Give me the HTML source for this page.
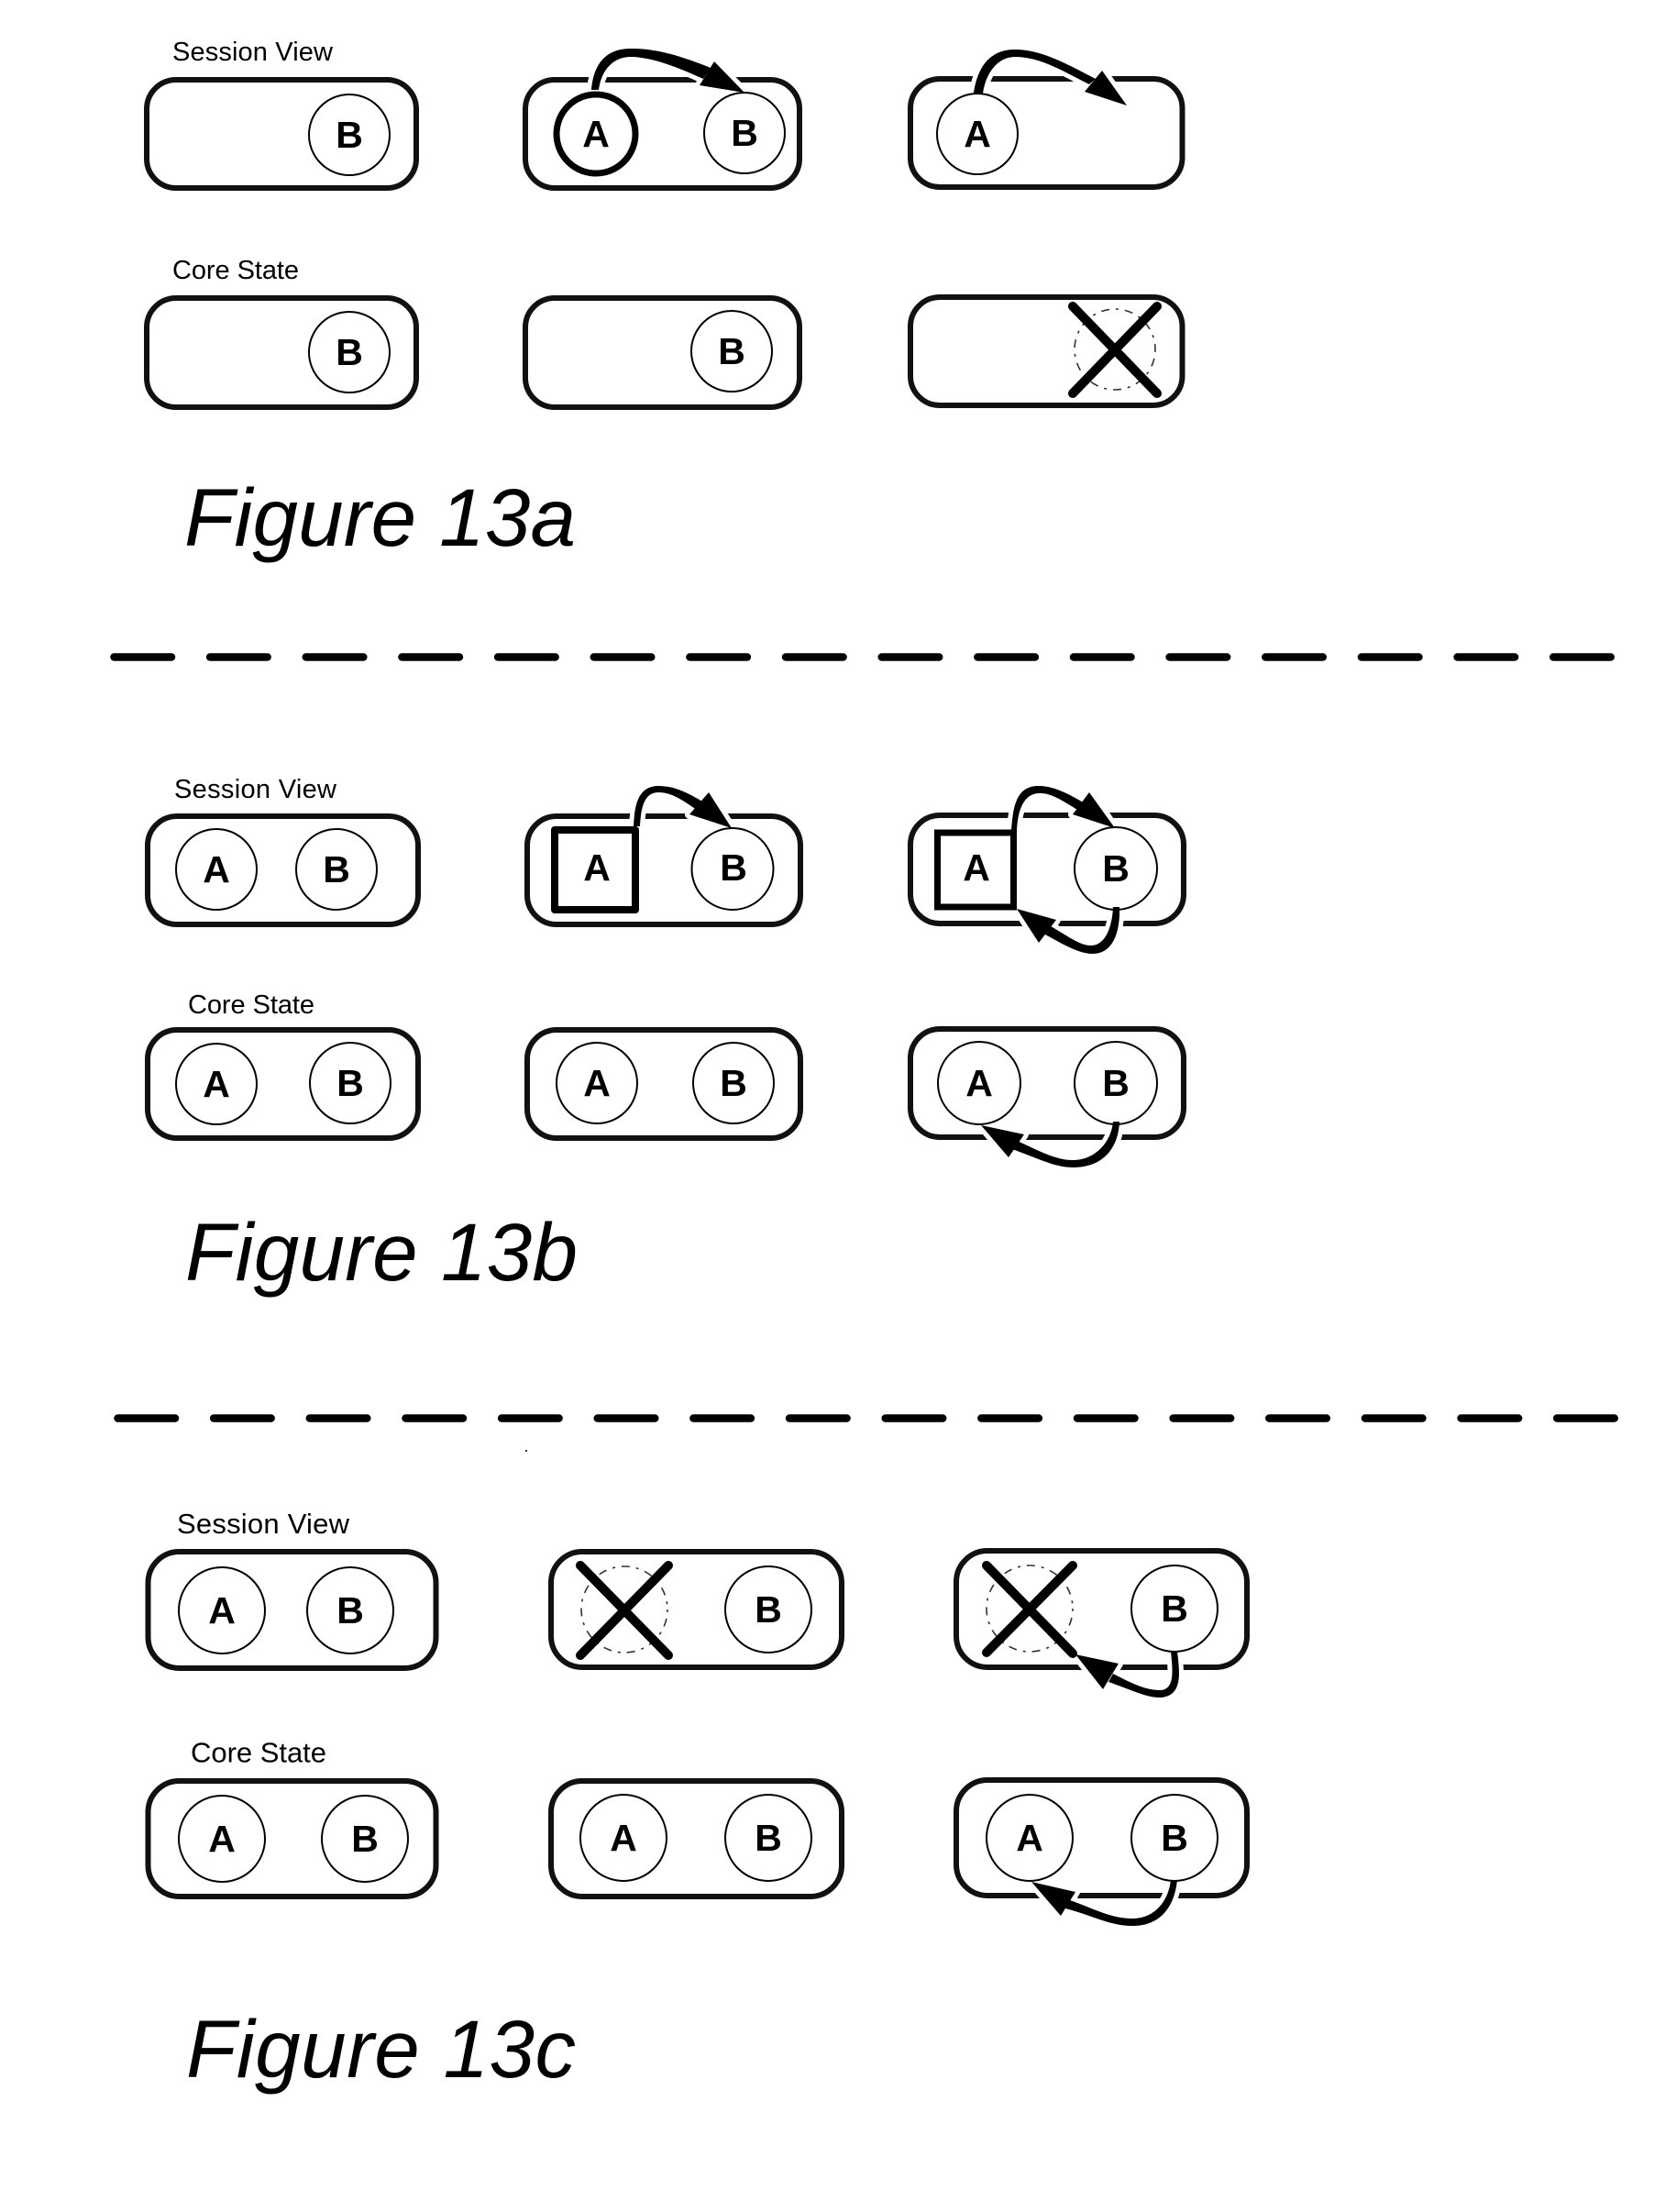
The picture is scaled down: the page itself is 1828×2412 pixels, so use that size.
<!DOCTYPE html>
<html>
<head>
<meta charset="utf-8">
<style>
html,body{margin:0;padding:0;background:#fff;}
svg{display:block;}
text{font-family:"Liberation Sans",sans-serif;fill:#000;}
.box{fill:none;stroke:#111;stroke-width:6;}
.c{fill:#fff;stroke:#000;stroke-width:2;}
.t{stroke:#000;stroke-width:7;fill:#fff;}
.s{stroke:#000;stroke-width:8;fill:#fff;stroke-linejoin:round;}
.l{font-size:29px;}
.n{font-size:41px;font-weight:bold;text-anchor:middle;}
.f{font-size:89px;font-style:italic;}
.x{stroke:#000;stroke-width:10;stroke-linecap:round;fill:none;}
.d{fill:none;stroke:#333;stroke-width:1.6;stroke-dasharray:3 7 9 7;}
.halo{fill:#fff;stroke:#fff;stroke-width:10;stroke-linejoin:round;}
.ink{fill:#000;stroke:none;}
.dash{stroke:#000;stroke-width:8.5;stroke-dasharray:62.5 42.15;stroke-linecap:round;fill:none;}
</style>
</head>
<body>
<svg xmlns="http://www.w3.org/2000/svg" width="1828" height="2412" viewBox="0 0 1828 2412">
<rect width="1828" height="2412" fill="#fff"/>
<defs>
<g id="a1"><path d="M645,98 C647,76 656,52 690,53 C720,53 750,64 775,74 L767,86 C745,76 715,63 690,62 C670,61 656,75 653,98 Z"/><polygon points="812,101 779,67 763,93"/></g>
<g id="a2"><path d="M1062,102 C1065,80 1075,54 1107,54 C1135,54 1160,68 1195,86 L1188,92 C1160,78 1135,62 1107,62 C1088,62 1075,80 1072,102 Z"/><polygon points="1229,115 1202,77 1183,100"/></g>
<g id="b1"><path d="M691,901 C692,880 695,857 718,857 C738,857 752,866 768,875 L760,883 C745,873 733,864 718,864 C703,864 699,880 698,901 Z"/><polygon points="798,903 773,864 752,888"/></g>
<g id="b2"><path d="M1103,905 C1105,880 1108,856 1134,857 C1150,857 1170,868 1183,876 L1177,884 C1160,874 1148,865 1135,865 C1116,864 1110,885 1109,905 Z"/><polygon points="1216,903 1188,864 1170,888"/></g>
<g id="b3"><path d="M1214,989 L1221,989 C1222,1020 1212,1041 1190,1040 C1175,1039 1160,1030 1140,1019 L1146,1010 C1165,1021 1178,1031 1190,1031 C1205,1031 1213,1012 1214,989 Z"/><polygon points="1109,991 1133,1028 1152,1003"/></g>
<g id="b4"><path d="M1214,1223 L1221,1223 C1220,1250 1205,1273 1170,1273 C1150,1273 1130,1262 1101,1252 L1107,1243 C1130,1253 1150,1265 1170,1265 C1195,1265 1212,1245 1214,1223 Z"/><polygon points="1070,1227 1100,1262 1117,1237"/></g>
<g id="c1"><path d="M1277,1801 L1284,1801 C1287,1825 1290,1850 1265,1851 C1250,1851 1235,1843 1209,1834 L1214,1825 C1235,1836 1250,1843 1265,1843 C1282,1843 1279,1820 1277,1801 Z"/><polygon points="1173,1804 1203,1842 1220,1814"/></g>
<g id="c2"><path d="M1277,2050 L1284,2050 C1281,2080 1265,2100 1235,2100 C1210,2100 1190,2088 1162,2081 L1167,2072 C1195,2082 1212,2092 1235,2092 C1258,2092 1274,2075 1277,2050 Z"/><polygon points="1125,2052 1157,2089 1173,2063"/></g>
</defs>

<!-- Boxes and dashed separators -->
<rect class="box" x="160" y="87" width="294" height="118" rx="32"/>
<rect class="box" x="573" y="87" width="299" height="118" rx="32"/>
<rect class="box" x="993" y="86" width="296.500" height="118" rx="32"/>
<rect class="box" x="160" y="325" width="294" height="119" rx="32"/>
<rect class="box" x="573" y="325" width="299" height="119" rx="32"/>
<rect class="box" x="993" y="324" width="296.500" height="118" rx="32"/>

<rect class="box" x="161" y="890" width="295" height="118" rx="32"/>
<rect class="box" x="575" y="890" width="298" height="118" rx="32"/>
<rect class="box" x="993" y="889" width="298" height="118" rx="32"/>
<rect class="box" x="161" y="1123" width="295" height="118" rx="32"/>
<rect class="box" x="575" y="1123" width="298" height="118" rx="32"/>
<rect class="box" x="993" y="1122" width="298" height="118" rx="32"/>

<rect class="box" x="161.500" y="1692" width="314" height="127" rx="34"/>
<rect class="box" x="601" y="1692" width="317" height="126" rx="34"/>
<rect class="box" x="1043" y="1691" width="317" height="127" rx="34"/>
<rect class="box" x="161.500" y="1942" width="314" height="126" rx="34"/>
<rect class="box" x="601" y="1942" width="317" height="126" rx="34"/>
<rect class="box" x="1043" y="1941" width="317" height="126" rx="34"/>

<line class="dash" x1="124.500" y1="716.500" x2="1770" y2="716.500"/>
<line class="dash" x1="128.500" y1="1546.500" x2="1775" y2="1546.500"/>
<circle cx="574" cy="1582" r="1" fill="#000"/>

<!-- Halo cuts the box outlines where the arrows cross -->
<g class="halo">
<use href="#a1"/><use href="#a2"/><use href="#b1"/><use href="#b2"/><use href="#b3"/><use href="#b4"/><use href="#c1"/><use href="#c2"/>
</g>

<!-- Figure 13a -->
<text class="l" x="188" y="66" textLength="175">Session View</text>
<text class="l" x="188" y="304" textLength="138">Core State</text>
<circle class="c" cx="381" cy="147" r="44"/><text class="n" x="381" y="161">B</text>
<circle class="t" cx="650" cy="146" r="43"/><text class="n" x="650" y="160">A</text>
<circle class="c" cx="812" cy="145" r="44"/><text class="n" x="812" y="159">B</text>
<circle class="c" cx="1066" cy="146" r="44"/><text class="n" x="1066" y="160">A</text>
<circle class="c" cx="381" cy="384" r="44"/><text class="n" x="381" y="398">B</text>
<circle class="c" cx="798" cy="383" r="44"/><text class="n" x="798" y="397">B</text>
<circle class="d" cx="1216" cy="381" r="44"/>
<path class="x" d="M1170,334 L1262,429 M1262,334 L1170,429"/>
<text class="f" x="201" y="595" textLength="427">Figure 13a</text>

<!-- Figure 13b -->
<text class="l" x="190" y="870" textLength="177">Session View</text>
<text class="l" x="205" y="1105" textLength="138">Core State</text>
<circle class="c" cx="236" cy="948" r="44"/><text class="n" x="236" y="962">A</text>
<circle class="c" cx="367" cy="948" r="44"/><text class="n" x="367" y="962">B</text>
<rect class="s" x="605" y="905" width="88" height="87"/><text class="n" x="651" y="960">A</text>
<circle class="c" cx="799" cy="947.500" r="44.500"/><text class="n" x="800" y="960">B</text>
<rect class="t" x="1022.500" y="908" width="83" height="81"/><text class="n" x="1065" y="960">A</text>
<circle class="c" cx="1217" cy="947" r="45"/><text class="n" x="1217" y="961">B</text>
<circle class="c" cx="236" cy="1182" r="44"/><text class="n" x="236" y="1196">A</text>
<circle class="c" cx="382" cy="1181" r="44"/><text class="n" x="382" y="1195">B</text>
<circle class="c" cx="651" cy="1181" r="44"/><text class="n" x="651" y="1195">A</text>
<circle class="c" cx="800" cy="1181" r="44"/><text class="n" x="800" y="1195">B</text>
<circle class="c" cx="1068" cy="1181" r="45"/><text class="n" x="1068" y="1195">A</text>
<circle class="c" cx="1217" cy="1181" r="45"/><text class="n" x="1217" y="1195">B</text>
<text class="f" x="202" y="1396" textLength="428">Figure 13b</text>

<!-- Figure 13c -->
<text class="l" x="193" y="1672" style="font-size:31px" textLength="188">Session View</text>
<text class="l" x="208" y="1921.500" style="font-size:31px" textLength="148">Core State</text>
<circle class="c" cx="242" cy="1756" r="47"/><text class="n" x="242" y="1770">A</text>
<circle class="c" cx="382" cy="1756" r="47"/><text class="n" x="382" y="1770">B</text>
<circle class="d" cx="681" cy="1755" r="47"/>
<path class="x" d="M633,1707 L729,1805 M729,1707 L633,1805"/>
<circle class="c" cx="838" cy="1755" r="47"/><text class="n" x="838" y="1769">B</text>
<circle class="d" cx="1123" cy="1754" r="47"/>
<path class="x" d="M1076,1707 L1170,1803 M1170,1707 L1076,1802"/>
<circle class="c" cx="1281" cy="1754" r="47"/><text class="n" x="1281" y="1768">B</text>
<circle class="c" cx="242" cy="2005" r="47"/><text class="n" x="242" y="2019">A</text>
<circle class="c" cx="398" cy="2005" r="47"/><text class="n" x="398" y="2019">B</text>
<circle class="c" cx="680" cy="2004" r="47"/><text class="n" x="680" y="2018">A</text>
<circle class="c" cx="838" cy="2004" r="47"/><text class="n" x="838" y="2018">B</text>
<circle class="c" cx="1123" cy="2004" r="47"/><text class="n" x="1123" y="2018">A</text>
<circle class="c" cx="1281" cy="2004" r="47"/><text class="n" x="1281" y="2018">B</text>
<text class="f" x="203" y="2265" textLength="425">Figure 13c</text>

<!-- Arrow ink on top -->
<g class="ink">
<use href="#a1"/><use href="#a2"/><use href="#b1"/><use href="#b2"/><use href="#b3"/><use href="#b4"/><use href="#c1"/><use href="#c2"/>
</g>
</svg>
</body>
</html>
